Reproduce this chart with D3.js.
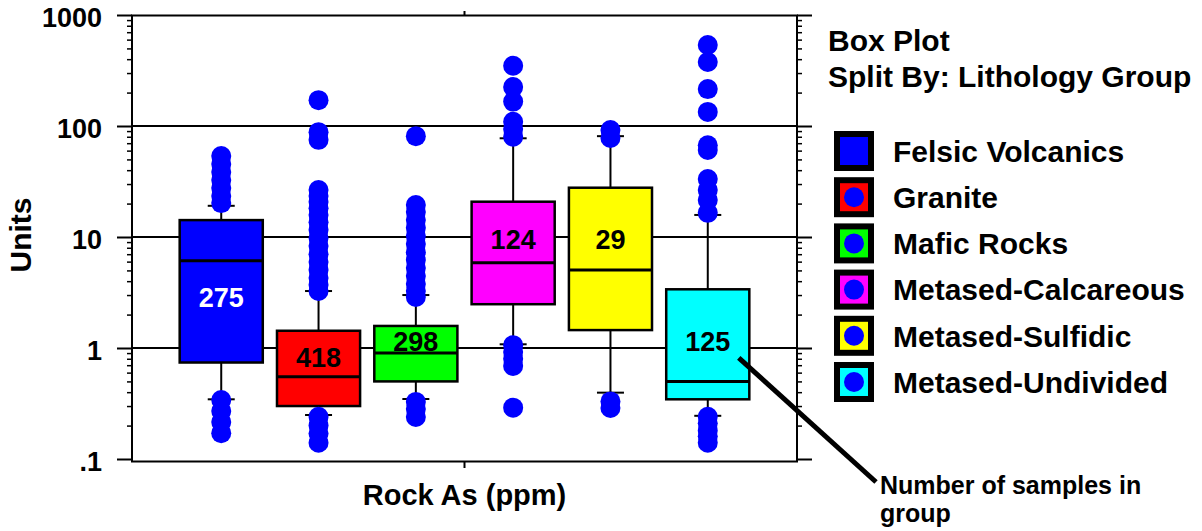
<!DOCTYPE html>
<html>
<head>
<meta charset="utf-8">
<script src="https://cdn.jsdelivr.net/npm/d3@7"></script>
<style>
  body { margin: 0; background: #fff; }
  svg { display: block; font-family: "Liberation Sans", Arial, sans-serif; font-weight: bold; }
</style>
</head>
<body>
<svg id="chart" width="1202" height="531"></svg>
<script>
// data
const groups = ["Felsic Volcanics", "Granite", "Mafic Rocks", "Metased-Calcareous", "Metased-Sulfidic", "Metased-Undivided"];
const colors = ["#0000ff", "#ff0000", "#00ff00", "#ff00ff", "#ffff00", "#00ffff"];
const counts = [275, 418, 298, 124, 29, 125];
const q1 = [0.74, 0.30, 0.50, 2.48, 1.45, 0.345];
const median = [6.1, 0.55, 0.90, 5.87, 5.04, 0.50];
const q3 = [14.2, 1.43, 1.58, 20.8, 27.8, 3.38];
const whiskerLow = [0.345, 0.249, 0.347, 1.08, 0.396, 0.245];
const whiskerHigh = [19.1, 3.26, 3.0, 77.5, 81, 15.8];
const countAt = [2.88, 0.83, 1.16, 9.6, 9.6, 1.16]; // where the sample count is written (Units)
const outliers = [
  [53.7, 45.5, 38.5, 32.6, 27.6, 23.4, 20.2, 0.34, 0.27, 0.215, 0.171],
  [171, 88, 75, 26.5, 23.4, 20.7, 18.2, 15.8, 13.6, 11.6, 9.8, 8.3, 7.0, 5.95, 5.05, 4.27, 3.7, 3.26, 0.24, 0.2, 0.17, 0.14],
  [81, 19.4, 16.8, 14.2, 12.1, 10.2, 8.65, 7.3, 6.2, 5.26, 4.45, 3.77, 3.26, 2.88, 0.327, 0.282, 0.239],
  [349, 224, 166, 109, 94, 80, 1.06, 0.92, 0.80, 0.69, 0.29],
  [92, 78, 0.33, 0.288],
  [537, 377, 215, 134, 67, 60.8, 33.3, 26.5, 21.5, 16.5, 0.24, 0.21, 0.18, 0.16, 0.14]
];
const yTicks = [0.1, 1, 10, 100, 1000];
const yTickLabels = [".1", "1", "10", "100", "1000"];
const gridAt = [1, 10, 100];

const svg = d3.select("#chart");
const pLeft = 132, pRight = 797, pTop = 15, pBottom = 461;

const x = d3.scaleBand()
  .domain(groups)
  .range([pLeft, pRight])
  .paddingInner(0.146)
  .paddingOuter(0.49);

const y = d3.scaleLog()
  .domain([0.1, 1000])
  .range([459, 15]);

const minor = [];
for (let e = -1; e < 3; e++) for (let m = 2; m <= 9; m++) minor.push(m * Math.pow(10, e));

// gridlines
svg.append("g").selectAll("line").data(gridAt).join("line")
  .attr("x1", pLeft).attr("x2", pRight)
  .attr("y1", d => y(d)).attr("y2", d => y(d))
  .attr("stroke", "#000").attr("stroke-width", 2);

// frame
svg.append("rect")
  .attr("x", pLeft).attr("y", pTop + 0.5)
  .attr("width", pRight - pLeft).attr("height", pBottom - pTop)
  .attr("fill", "none").attr("stroke", "#000").attr("stroke-width", 2);

// left & right axes
const leftAxis = d3.axisLeft(y).tickValues(yTicks).tickSize(15).tickFormat((d, i) => yTickLabels[i]);
const gl = svg.append("g").attr("transform", `translate(${pLeft},0)`).call(leftAxis);
gl.select(".domain").remove();
gl.selectAll("line").attr("stroke-width", 2);
gl.selectAll("text")
  .attr("x", -30).attr("dy", "0.42em")
  .attr("font-size", 27).attr("fill", "#000");
gl.attr("font-family", null).attr("font-size", null);

const glm = svg.append("g").attr("transform", `translate(${pLeft},0)`).call(d3.axisLeft(y).tickValues(minor).tickSize(5).tickFormat(""));
glm.select(".domain").remove();
glm.selectAll("line").attr("stroke-width", 1.5);

const gr = svg.append("g").attr("transform", `translate(${pRight},0)`).call(d3.axisRight(y).tickValues(yTicks).tickSize(15).tickFormat(""));
gr.select(".domain").remove();
gr.selectAll("line").attr("stroke-width", 2);
const grm = svg.append("g").attr("transform", `translate(${pRight},0)`).call(d3.axisRight(y).tickValues(minor).tickSize(5).tickFormat(""));
grm.select(".domain").remove();
grm.selectAll("line").attr("stroke-width", 1.5);

// single category tick, top and bottom
const mid = (pLeft + pRight) / 2;
svg.append("line").attr("x1", mid).attr("x2", mid).attr("y1", pTop - 4).attr("y2", pTop).attr("stroke", "#000").attr("stroke-width", 2);
svg.append("line").attr("x1", mid).attr("x2", mid).attr("y1", pBottom).attr("y2", pBottom + 7).attr("stroke", "#000").attr("stroke-width", 2);

// boxes
const bw = x.bandwidth();
const rows = groups.map((g, i) => ({
  g, i, color: colors[i], n: counts[i], q1: q1[i], med: median[i], q3: q3[i],
  lo: whiskerLow[i], hi: whiskerHigh[i], at: countAt[i], cx: x(g) + bw / 2
}));

const box = svg.append("g").selectAll("g").data(rows).join("g");

box.append("line") // whiskers
  .attr("x1", d => d.cx).attr("x2", d => d.cx)
  .attr("y1", d => y(d.hi)).attr("y2", d => y(d.lo))
  .attr("stroke", "#000").attr("stroke-width", 2);
box.selectAll(".cap").data(d => [{ cx: d.cx, v: d.hi }, { cx: d.cx, v: d.lo }]).join("line")
  .attr("class", "cap")
  .attr("x1", d => d.cx - 13.5).attr("x2", d => d.cx + 13.5)
  .attr("y1", d => y(d.v)).attr("y2", d => y(d.v))
  .attr("stroke", "#000").attr("stroke-width", 2);
box.append("rect")
  .attr("x", d => x(d.g)).attr("width", bw)
  .attr("y", d => y(d.q3)).attr("height", d => y(d.q1) - y(d.q3))
  .attr("fill", d => d.color).attr("stroke", "#000").attr("stroke-width", 2.5);
box.append("line")
  .attr("x1", d => x(d.g)).attr("x2", d => x(d.g) + bw)
  .attr("y1", d => y(d.med)).attr("y2", d => y(d.med))
  .attr("stroke", "#000").attr("stroke-width", 3);

// outliers
box.selectAll("circle").data(d => outliers[d.i].map(v => ({ cx: d.cx, v }))).join("circle")
  .attr("cx", d => d.cx).attr("cy", d => y(d.v)).attr("r", 10)
  .attr("fill", "#0000ff");

// sample counts
box.append("text")
  .attr("x", d => d.cx).attr("y", d => y(d.at)).attr("dy", "0.36em")
  .attr("text-anchor", "middle").attr("font-size", 27)
  .attr("fill", d => d.i === 0 ? "#fff" : "#000")
  .text(d => d.n);

// axis titles
svg.append("text")
  .attr("transform", `translate(31,235) rotate(-90)`)
  .attr("text-anchor", "middle").attr("font-size", 30)
  .text("Units");
svg.append("text")
  .attr("x", mid).attr("y", 505)
  .attr("text-anchor", "middle").attr("font-size", 29)
  .text("Rock As (ppm)");

// title and legend
const lx = 828;
svg.append("text").attr("x", lx).attr("y", 51).attr("font-size", 30).text("Box Plot");
svg.append("text").attr("x", lx).attr("y", 87).attr("font-size", 30).text("Split By: Lithology Group");

const leg = svg.append("g").selectAll("g").data(rows).join("g")
  .attr("transform", d => `translate(834,${151 + d.i * 46.2})`);
leg.append("rect").attr("x", 0).attr("y", -20).attr("width", 40).attr("height", 40).attr("fill", "#000");
leg.append("rect").attr("x", 6).attr("y", -14).attr("width", 28).attr("height", 28).attr("fill", d => d.color);
leg.filter(d => d.i > 0).append("circle").attr("cx", 20).attr("cy", 0).attr("r", 10).attr("fill", "#0000ff");
leg.append("text").attr("x", 59).attr("y", 0).attr("dy", "0.36em").attr("font-size", 30).text(d => d.g);

// annotation
const note = { x: 880, y: 494 };
const last = rows[rows.length - 1];
svg.append("line")
  .attr("x1", last.cx + 31).attr("y1", y(last.at) + 17)
  .attr("x2", note.x - 4).attr("y2", note.y - 12)
  .attr("stroke", "#000").attr("stroke-width", 5);
svg.append("text").attr("x", note.x).attr("y", note.y).attr("font-size", 25).text("Number of samples in");
svg.append("text").attr("x", note.x).attr("y", note.y + 28).attr("font-size", 25).text("group");
</script>
</body>
</html>
